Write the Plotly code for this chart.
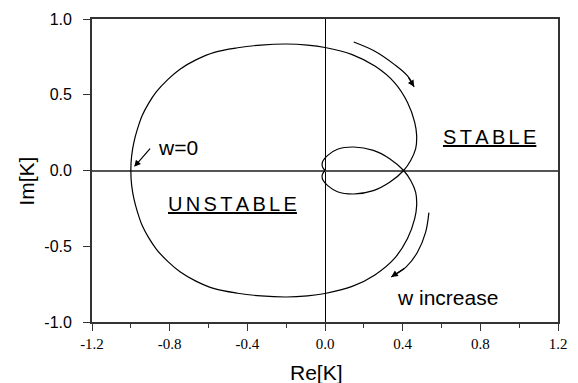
import plotly.graph_objects as go

# Nyquist curve K(jw), digitized (one closed path: origin -> upper small loop -> lower big arc
# -> w=0 point -> upper big arc -> lower small loop -> origin)
re_k = [0.000, -0.008, -0.015, -0.010, 0.014, 0.064, 0.148, 0.249, 0.333, 0.405,
        0.442, 0.467, 0.472, 0.462, 0.425, 0.358, 0.257, 0.140, 0.000, -0.090,
        -0.200, -0.330, -0.450, -0.570, -0.665, -0.745, -0.810, -0.868, -0.910, -0.942,
        -0.965, -0.984, -0.996, -1.000,
        -0.996, -0.984, -0.965, -0.942, -0.910, -0.868, -0.810, -0.745, -0.665, -0.570,
        -0.450, -0.330, -0.200, -0.090, 0.000, 0.140, 0.257, 0.358, 0.425, 0.462,
        0.472, 0.467, 0.442, 0.405,
        0.333, 0.249, 0.148, 0.064, 0.014, -0.010, -0.015, -0.008, 0.000]
im_k = [0.000, 0.012, 0.035, 0.065, 0.100, 0.140, 0.155, 0.133, 0.078, 0.000,
        -0.068, -0.144, -0.231, -0.318, -0.449, -0.580, -0.689, -0.765, -0.812, -0.828,
        -0.835, -0.828, -0.810, -0.780, -0.730, -0.670, -0.600, -0.520, -0.440, -0.362,
        -0.278, -0.188, -0.095, 0.000,
        0.095, 0.188, 0.278, 0.362, 0.440, 0.520, 0.600, 0.670, 0.730, 0.780,
        0.810, 0.828, 0.835, 0.828, 0.812, 0.765, 0.689, 0.580, 0.449, 0.318,
        0.231, 0.144, 0.068, 0.000,
        -0.078, -0.133, -0.155, -0.140, -0.100, -0.065, -0.035, -0.012, 0.000]

# direction arrows
arrow_top_re = [0.148, 0.257, 0.358, 0.425, 0.459]
arrow_top_im = [0.848, 0.787, 0.699, 0.624, 0.552]
arrow_bot_re = [0.535, 0.518, 0.476, 0.417, 0.341]
arrow_bot_im = [-0.278, -0.409, -0.540, -0.638, -0.703]
arrow_w0_tail = [-0.894, 0.155]
arrow_w0_head = [-0.983, 0.024]

x_ticks = [-1.2, -0.8, -0.4, 0.0, 0.4, 0.8, 1.2]
x_tick_text = ["-1.2", "-0.8", "-0.4", "0.0", "0.4", "0.8", "1.2"]
y_ticks = [-1.0, -0.5, 0.0, 0.5, 1.0]
y_tick_text = ["-1.0", "-0.5", "0.0", "0.5", "1.0"]

SANS = "Liberation Sans, Arial, sans-serif"
SERIF = "Liberation Serif, Times New Roman, serif"
sp = "\u2006"

fig = go.Figure()
fig.add_trace(go.Scatter(x=re_k, y=im_k, mode="lines",
                         line=dict(color="black", width=1.2, shape="spline", smoothing=1.0),
                         hoverinfo="skip"))
for xs, ys in [(arrow_top_re, arrow_top_im), (arrow_bot_re, arrow_bot_im)]:
    fig.add_trace(go.Scatter(x=xs, y=ys, mode="lines",
                             line=dict(color="black", width=1.2, shape="spline"),
                             hoverinfo="skip"))

annotations = []
for xs, ys in [(arrow_top_re, arrow_top_im), (arrow_bot_re, arrow_bot_im)]:
    annotations.append(dict(x=xs[-1], y=ys[-1], ax=xs[-2], ay=ys[-2], xref="x", yref="y",
                            axref="x", ayref="y", showarrow=True, arrowhead=2, arrowsize=1.1,
                            arrowwidth=1.2, arrowcolor="black", standoff=0, text=""))
annotations.append(dict(x=arrow_w0_head[0], y=arrow_w0_head[1], ax=arrow_w0_tail[0],
                        ay=arrow_w0_tail[1], xref="x", yref="y", axref="x", ayref="y",
                        showarrow=True, arrowhead=2, arrowsize=1.1, arrowwidth=1.2,
                        arrowcolor="black", standoff=0, text=""))

def label(text, x, y, size=20):
    return dict(x=x, y=y, xref="x", yref="y", text=text, showarrow=False,
                xanchor="center", yanchor="middle",
                font=dict(family=SANS, size=size, color="black"))

annotations += [
    label("w=0", -0.755, 0.150, 21),
    label("<u>" + sp.join("STABLE") + "</u>", 0.848, 0.224, 20),
    label("<u>" + sp.join("UNSTABLE") + "</u>", -0.475, -0.221, 20),
    label("w increase", 0.632, -0.835, 21),
    dict(x=0.482, y=-0.166, xref="paper", yref="paper", text="Re[K]", showarrow=False,
         xanchor="center", yanchor="middle", font=dict(family=SANS, size=21, color="black")),
    dict(x=-0.141, y=0.464, xref="paper", yref="paper", text="Im[K]", showarrow=False,
         textangle=-90, xanchor="center", yanchor="middle",
         font=dict(family=SANS, size=21, color="black")),
]

fig.update_layout(
    width=578, height=383,
    margin=dict(l=92, r=11, t=15, b=61),
    paper_bgcolor="white", plot_bgcolor="white",
    showlegend=False,
    annotations=annotations,
    xaxis=dict(range=[-1.2, 1.2], tickvals=x_ticks, ticktext=x_tick_text,
               ticks="outside", ticklen=7, tickwidth=1.2, tickcolor="#333",
               minor=dict(dtick=0.2, tick0=-1.2, ticks="outside", ticklen=4,
                          tickwidth=1.2, tickcolor="#333"),
               showgrid=False, showline=True, linecolor="#333", linewidth=1.8, mirror=True,
               zeroline=True, zerolinecolor="black", zerolinewidth=1.3,
               tickfont=dict(family=SERIF, size=15, color="black"), fixedrange=True),
    yaxis=dict(range=[-1.0, 1.0], tickvals=y_ticks, ticktext=y_tick_text,
               ticks="outside", ticklen=7, tickwidth=1.2, tickcolor="#333",
               showgrid=False, showline=True, linecolor="#333", linewidth=1.8, mirror=True,
               zeroline=True, zerolinecolor="#555", zerolinewidth=2,
               ticklabelstandoff=8,
               tickfont=dict(family=SANS, size=16, color="black"), fixedrange=True),
)

fig.write_html("out.html")
